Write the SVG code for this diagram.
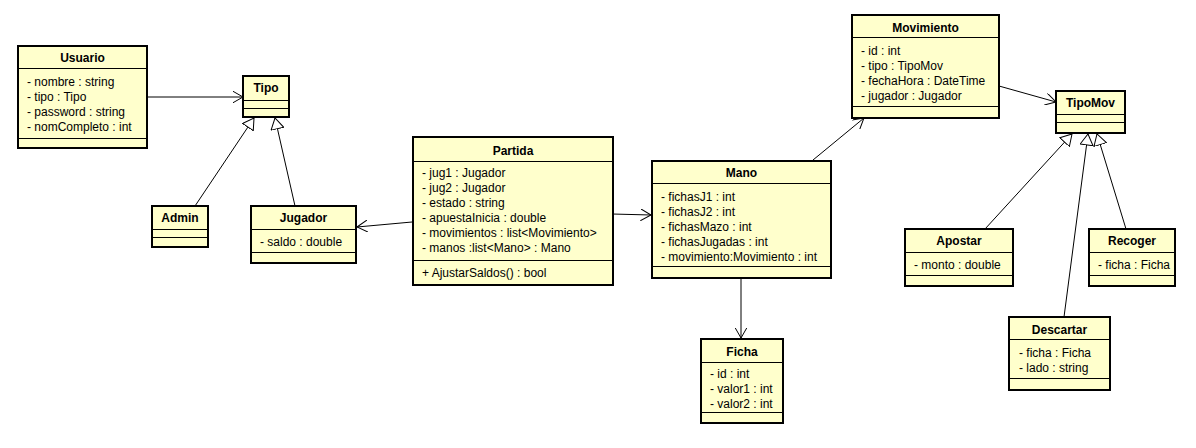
<svg xmlns="http://www.w3.org/2000/svg" width="1196" height="448" viewBox="0 0 1196 448">
  <style>
    .box { fill: #FFFFCC; stroke: #000; stroke-width: 2; }
    .div { stroke: #000; stroke-width: 1; }
    .title { font-family: "Liberation Sans", Arial, sans-serif; font-size: 12px; font-weight: bold; text-anchor: middle; fill: #000; }
    .attr { font-family: "Liberation Sans", Arial, sans-serif; font-size: 12px; fill: #000; }
    .edge { stroke: #000; stroke-width: 1; fill: none; }
    .assoc { marker-end: url(#open); }
    .gen { marker-end: url(#tri); }
  </style>
  <defs>
    <marker id="open" viewBox="0 0 11 12" refX="10.5" refY="6" markerWidth="11" markerHeight="12" markerUnits="userSpaceOnUse" orient="auto">
      <path d="M0,0 L10.5,6 L0,12" fill="none" stroke="#000" stroke-width="1"/>
    </marker>
    <marker id="tri" viewBox="0 0 12 14" refX="11.5" refY="7" markerWidth="12" markerHeight="14" markerUnits="userSpaceOnUse" orient="auto">
      <path d="M0.5,0.5 L11.5,7 L0.5,13.5 Z" fill="#fff" stroke="#000" stroke-width="1"/>
    </marker>
  </defs>
  <rect width="1196" height="448" fill="#fff"/>

  <!-- connectors -->
  <g id="connectors">
    <line class="edge assoc" x1="147" y1="97" x2="243" y2="97"/>
    <line class="edge gen" x1="195" y1="206" x2="254" y2="118"/>
    <line class="edge gen" x1="295" y1="206" x2="275" y2="118"/>
    <line class="edge assoc" x1="412" y1="222" x2="357" y2="227"/>
    <line class="edge assoc" x1="612" y1="214" x2="651" y2="215"/>
    <line class="edge assoc" x1="813" y1="160" x2="864" y2="118"/>
    <line class="edge assoc" x1="741" y1="278" x2="741" y2="338"/>
    <line class="edge assoc" x1="999" y1="86" x2="1056" y2="102"/>
    <line class="edge gen" x1="985" y1="229" x2="1072" y2="134"/>
    <line class="edge gen" x1="1064" y1="317" x2="1088" y2="134"/>
    <line class="edge gen" x1="1126" y1="229" x2="1097" y2="134"/>
  </g>

  <!-- Usuario -->
  <g id="usuario">
    <rect class="box" x="18" y="46" width="129" height="102"/>
    <line class="div" x1="18" y1="68.5" x2="147" y2="68.5"/>
    <line class="div" x1="18" y1="138.5" x2="147" y2="138.5"/>
    <text class="title" x="82.5" y="62">Usuario</text>
    <text class="attr" x="27" y="86">- nombre : string</text>
    <text class="attr" x="27" y="101">- tipo : Tipo</text>
    <text class="attr" x="27" y="116">- password : string</text>
    <text class="attr" x="27" y="131">- nomCompleto : int</text>
  </g>

  <!-- Tipo -->
  <g id="tipo">
    <rect class="box" x="243" y="76" width="46" height="41"/>
    <line class="div" x1="243" y1="100.5" x2="289" y2="100.5"/>
    <line class="div" x1="243" y1="108.5" x2="289" y2="108.5"/>
    <text class="title" x="266" y="92">Tipo</text>
  </g>

  <!-- Admin -->
  <g id="admin">
    <rect class="box" x="152" y="206" width="56" height="41"/>
    <line class="div" x1="152" y1="229.5" x2="208" y2="229.5"/>
    <line class="div" x1="152" y1="237.5" x2="208" y2="237.5"/>
    <text class="title" x="180" y="222">Admin</text>
  </g>

  <!-- Jugador -->
  <g id="jugador">
    <rect class="box" x="251" y="206" width="105" height="57"/>
    <line class="div" x1="251" y1="229.5" x2="356" y2="229.5"/>
    <line class="div" x1="251" y1="252.5" x2="356" y2="252.5"/>
    <text class="title" x="303.5" y="222">Jugador</text>
    <text class="attr" x="260" y="246">- saldo : double</text>
  </g>

  <!-- Partida -->
  <g id="partida">
    <rect class="box" x="413" y="137" width="200" height="148"/>
    <line class="div" x1="413" y1="161.5" x2="613" y2="161.5"/>
    <line class="div" x1="413" y1="260.5" x2="613" y2="260.5"/>
    <text class="title" x="513" y="155">Partida</text>
    <text class="attr" x="422" y="177">- jug1 : Jugador</text>
    <text class="attr" x="422" y="192">- jug2 : Jugador</text>
    <text class="attr" x="422" y="207">- estado : string</text>
    <text class="attr" x="422" y="222">- apuestaInicia : double</text>
    <text class="attr" x="422" y="237">- movimientos : list&lt;Movimiento&gt;</text>
    <text class="attr" x="422" y="252">- manos :list&lt;Mano&gt; : Mano</text>
    <text class="attr" x="422" y="277">+ AjustarSaldos() : bool</text>
  </g>

  <!-- Mano -->
  <g id="mano">
    <rect class="box" x="652" y="161" width="179" height="117"/>
    <line class="div" x1="652" y1="183.5" x2="831" y2="183.5"/>
    <line class="div" x1="652" y1="266.5" x2="831" y2="266.5"/>
    <text class="title" x="741.5" y="177">Mano</text>
    <text class="attr" x="661" y="201">- fichasJ1 : int</text>
    <text class="attr" x="661" y="216">- fichasJ2 : int</text>
    <text class="attr" x="661" y="231">- fichasMazo : int</text>
    <text class="attr" x="661" y="246">- fichasJugadas : int</text>
    <text class="attr" x="661" y="261">- movimiento:Movimiento : int</text>
  </g>

  <!-- Ficha -->
  <g id="ficha">
    <rect class="box" x="701" y="339" width="82" height="84"/>
    <line class="div" x1="701" y1="362.5" x2="783" y2="362.5"/>
    <line class="div" x1="701" y1="412.5" x2="783" y2="412.5"/>
    <text class="title" x="742" y="356">Ficha</text>
    <text class="attr" x="710" y="378">- id : int</text>
    <text class="attr" x="710" y="393">- valor1 : int</text>
    <text class="attr" x="710" y="408">- valor2 : int</text>
  </g>

  <!-- Movimiento -->
  <g id="movimiento">
    <rect class="box" x="852" y="15" width="147" height="103"/>
    <line class="div" x1="852" y1="37.5" x2="999" y2="37.5"/>
    <line class="div" x1="852" y1="106.5" x2="999" y2="106.5"/>
    <text class="title" x="925.5" y="32">Movimiento</text>
    <text class="attr" x="861" y="55">- id : int</text>
    <text class="attr" x="861" y="70">- tipo : TipoMov</text>
    <text class="attr" x="861" y="85">- fechaHora : DateTime</text>
    <text class="attr" x="861" y="100">- jugador : Jugador</text>
  </g>

  <!-- TipoMov -->
  <g id="tipomov">
    <rect class="box" x="1056" y="91" width="69" height="42"/>
    <line class="div" x1="1056" y1="114.5" x2="1125" y2="114.5"/>
    <line class="div" x1="1056" y1="122.5" x2="1125" y2="122.5"/>
    <text class="title" x="1090.5" y="107">TipoMov</text>
  </g>

  <!-- Apostar -->
  <g id="apostar">
    <rect class="box" x="905" y="229" width="108" height="57"/>
    <line class="div" x1="905" y1="252.5" x2="1013" y2="252.5"/>
    <line class="div" x1="905" y1="275.5" x2="1013" y2="275.5"/>
    <text class="title" x="959" y="245">Apostar</text>
    <text class="attr" x="914" y="269">- monto : double</text>
  </g>

  <!-- Recoger -->
  <g id="recoger">
    <rect class="box" x="1089" y="229" width="86" height="57"/>
    <line class="div" x1="1089" y1="252.5" x2="1175" y2="252.5"/>
    <line class="div" x1="1089" y1="275.5" x2="1175" y2="275.5"/>
    <text class="title" x="1132" y="245">Recoger</text>
    <text class="attr" x="1098" y="269">- ficha : Ficha</text>
  </g>

  <!-- Descartar -->
  <g id="descartar">
    <rect class="box" x="1009" y="317" width="101" height="73"/>
    <line class="div" x1="1009" y1="339.5" x2="1110" y2="339.5"/>
    <line class="div" x1="1009" y1="378.5" x2="1110" y2="378.5"/>
    <text class="title" x="1059.5" y="334">Descartar</text>
    <text class="attr" x="1019" y="357">- ficha : Ficha</text>
    <text class="attr" x="1019" y="372">- lado : string</text>
  </g>
</svg>
